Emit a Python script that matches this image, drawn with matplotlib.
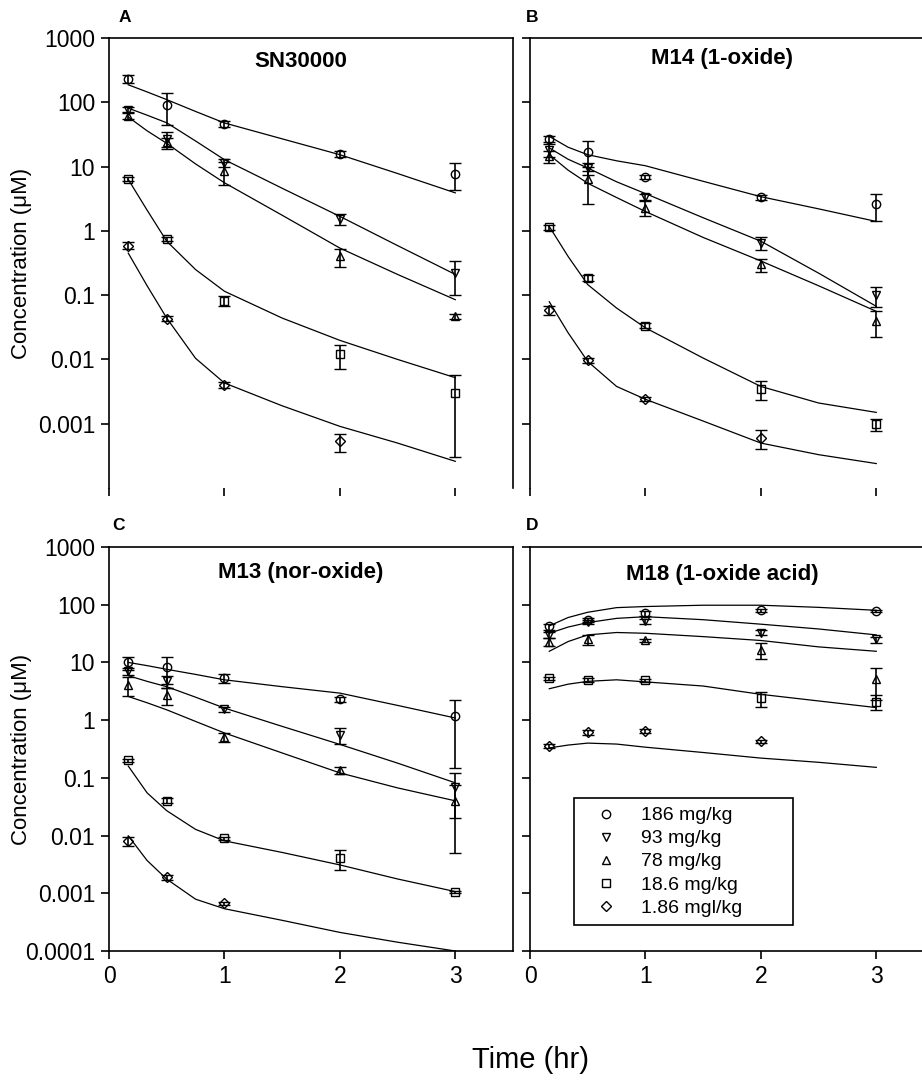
import numpy as np
import matplotlib
matplotlib.use('Agg')
import matplotlib.pyplot as plt
from matplotlib.lines import Line2D

plt.rcParams['font.family'] = ['Liberation Sans', 'DejaVu Sans']

# sampling times (hr)
t_obs = [0.167, 0.5, 1, 2, 3]
t_fit = [0.167, 0.33, 0.5, 0.75, 1, 1.5, 2, 2.5, 3]

doses = ['186 mg/kg', '93 mg/kg', '78 mg/kg', '18.6 mg/kg', '1.86 mgl/kg']
markers = ['o', 'v', '^', 's', 'D']
nan = np.nan

# SN30000 (rows follow doses)
sn_mean = [[233, 92, 46.5, 15.7, 7.8],
           [77, 27, 11.4, 1.55, 0.22],
           [62, 24, 8.5, 0.40, 0.047],
           [6.5, 0.745, 0.082, 0.012, 0.003],
           [0.59, 0.043, 0.004, 0.00053, nan]]
sn_sd = [[35, 48, 5, 1.5, 3.5],
         [8, 8, 1.5, 0.3, 0.12],
         [8, 4, 3.3, 0.13, 0.004],
         [0.5, 0.06, 0.015, 0.005, 0.0027],
         [0.07, 0.004, 0.0004, 0.00017, nan]]
sn_fit = [[187, 145, 110, 72, 47.7, 27, 15.3, 7.8, 3.9],
          [81, 63, 48, 25, 12.8, 4.6, 1.68, 0.59, 0.21],
          [59, 36, 23, 11, 5.6, 1.75, 0.54, 0.21, 0.085],
          [6.3, 2.1, 0.69, 0.25, 0.115, 0.044, 0.0198, 0.01, 0.0052],
          [0.45, 0.14, 0.044, 0.0104, 0.0043, 0.0019, 0.00091, 0.0005, 0.00026]]

# M14 (1-oxide)
m14_mean = [[26.9, 16.6, 7.0, 3.37, 2.6],
            [18.3, 9.5, 3.4, 0.65, 0.10],
            [14.5, 6.3, 2.3, 0.30, 0.039],
            [1.13, 0.185, 0.0336, 0.0035, 0.00098],
            [0.059, 0.0097, 0.00245, 0.0006, nan]]
m14_sd = [[3, 8, 0.5, 0.3, 1.2],
          [4, 2, 0.4, 0.15, 0.035],
          [3, 3.7, 0.6, 0.07, 0.017],
          [0.1, 0.02, 0.003, 0.0012, 0.0002],
          [0.01, 0.001, 0.0002, 0.0002, nan]]
m14_fit = [[29.5, 20, 15.3, 12.3, 10.3, 5.9, 3.4, 2.2, 1.4],
           [19.5, 13, 9.5, 5.8, 3.8, 1.6, 0.69, 0.22, 0.067],
           [15.3, 8.8, 5.5, 3.3, 2.0, 0.79, 0.34, 0.14, 0.056],
           [1.17, 0.4, 0.146, 0.063, 0.031, 0.0105, 0.0038, 0.0021, 0.0015],
           [0.079, 0.026, 0.0093, 0.0038, 0.0024, 0.0011, 0.0005, 0.00033, 0.00024]]

# M13 (nor-oxide)
m13_mean = [[10, 8.2, 5.4, 2.3, 1.2],
            [7.0, 4.7, 1.56, 0.56, 0.07],
            [4.1, 2.75, 0.51, 0.136, 0.04],
            [0.2, 0.040, 0.0089, 0.0041, 0.00105],
            [0.0081, 0.0019, 0.00067, nan, nan]]
m13_sd = [[2.5, 4, 1.0, 0.2, 1.05],
          [1, 1.1, 0.15, 0.17, 0.05],
          [1.5, 0.9, 0.1, 0.02, 0.035],
          [0.01, 0.004, 0.0006, 0.0016, 0.00005],
          [0.0015, 0.0002, 0.00004, nan, nan]]
m13_fit = [[10, 8.8, 7.6, 6.2, 5.0, 3.8, 2.94, 1.8, 1.09],
           [5.9, 4.7, 3.8, 2.5, 1.62, 0.78, 0.38, 0.18, 0.082],
           [2.57, 2.0, 1.51, 0.95, 0.6, 0.27, 0.122, 0.067, 0.04],
           [0.16, 0.055, 0.027, 0.0128, 0.0081, 0.0051, 0.0031, 0.00177, 0.00107],
           [0.0099, 0.0037, 0.00176, 0.00079, 0.00054, 0.00034, 0.00021, 0.000142, 0.0001]]

# M18 (1-oxide acid)
m18_mean = [[42, 55, 71, 80, 77],
            [30, 50, 52, 33, 25],
            [23, 25, 24, 16.5, 5.1],
            [5.3, 4.9, 4.9, 2.4, 2.1],
            [0.36, 0.62, 0.64, 0.43, nan]]
m18_sd = [[5, 4, 6, 5, 3],
          [4, 4, 5, 3, 3],
          [4, 5, 1, 5, 2.9],
          [0.3, 0.4, 0.3, 0.7, 0.6],
          [0.03, 0.06, 0.05, 0.03, nan]]
m18_fit = [[43, 60, 74, 89, 93, 98, 98, 90, 80],
           [32, 41, 49, 58, 62, 55, 46, 38, 30],
           [15.6, 23, 30, 33, 32, 28, 24, 18.6, 15.6],
           [3.5, 4.2, 4.7, 5.0, 4.6, 3.9, 2.8, 2.15, 1.65],
           [0.33, 0.37, 0.40, 0.385, 0.34, 0.275, 0.22, 0.186, 0.152]]

yticks = [1e3, 1e2, 1e1, 1, 0.1, 0.01, 0.001, 0.0001]
ylabels = ['1000', '100', '10', '1', '0.1', '0.01', '0.001', '0.0001']

W, H = 922., 1084.
fig = plt.figure(figsize=(W / 100, H / 100), dpi=100)

def box(l, t, r, b):
    return [l / W, 1 - b / H, (r - l) / W, (b - t) / H]

panels = [
    ('A', 'SN30000', sn_mean, sn_sd, sn_fit, box(109, 38, 513, 488), (125, 18), 0.947),
    ('B', 'M14 (1-oxide)', m14_mean, m14_sd, m14_fit, box(530, 38, 934, 488), (532, 18), 0.955),
    ('C', 'M13 (nor-oxide)', m13_mean, m13_sd, m13_fit, box(109, 547, 513, 951), (118, 525), 0.938),
    ('D', 'M18 (1-oxide acid)', m18_mean, m18_sd, m18_fit, box(530, 547, 934, 951), (532, 525), 0.933),
]

axes = {}
for letter, title, mean, sd, fit, pos, lpos, ty in panels:
    ax = fig.add_axes(pos)
    axes[letter] = ax
    ax.set_yscale('log')
    ax.set_xlim(0, 3.5)
    ax.set_ylim(1e-4, 1e3)

    for i in range(5):
        ax.plot(t_fit, fit[i], color='k', lw=0.9, zorder=2)
        ax.errorbar(t_obs, mean[i], yerr=sd[i], fmt=markers[i], ms=6 if markers[i] != 'D' else 5,
                    mfc='none', mec='k', mew=1.0, ecolor='k', elinewidth=1.2,
                    capsize=4, capthick=1.2, zorder=3)

    ax.text(0.475, ty, title, transform=ax.transAxes, ha='center', va='center',
            fontsize=16, fontweight='bold')
    fig.text(lpos[0] / W, 1 - lpos[1] / H, letter, ha='center', va='center',
             fontsize=12.5, fontweight='bold')

    ax.set_xticks([0, 1, 2, 3])
    ax.set_xticklabels(['0', '1', '2', '3'])
    if letter in 'AB':
        ax.set_yticks(yticks[:-1])
        ax.set_yticklabels(ylabels[:-1])
        ax.spines['bottom'].set_visible(False)
        ax.tick_params(axis='x', labelbottom=False)
    else:
        ax.set_yticks(yticks)
        ax.set_yticklabels(ylabels)
    ax.yaxis.set_minor_locator(matplotlib.ticker.NullLocator())
    ax.tick_params(direction='out', length=6, width=1.2, labelsize=16.5, pad=4)
    for s in ax.spines.values():
        s.set_linewidth(1.2)
    if letter in 'BD':
        ax.tick_params(axis='y', labelleft=False)
    else:
        ax.set_ylabel('Concentration (\u03bcM)', fontsize=16)
        ax.yaxis.set_label_coords(-0.19, 0.5)

fig.text(530 / W, 1 - 1060 / H, 'Time (hr)', ha='center', va='center', fontsize=21)

handles = [Line2D([], [], ls='none', marker=m, ms=6 if m != 'D' else 5, mfc='none', mec='k', mew=1.0)
           for m in markers]
leg = axes['D'].legend(handles, doses, loc='upper left',
                       bbox_to_anchor=(574 / W, 1 - 933 / H, 219 / W, 135 / H),
                       bbox_transform=fig.transFigure, mode='expand', borderaxespad=0,
                       fontsize=14, labelspacing=0.28, handlelength=2.4, handletextpad=0.6,
                       borderpad=0.45, fancybox=False, framealpha=1)
leg.get_frame().set_edgecolor('k')
leg.get_frame().set_linewidth(1.2)

fig.savefig('out.png', dpi=100)
